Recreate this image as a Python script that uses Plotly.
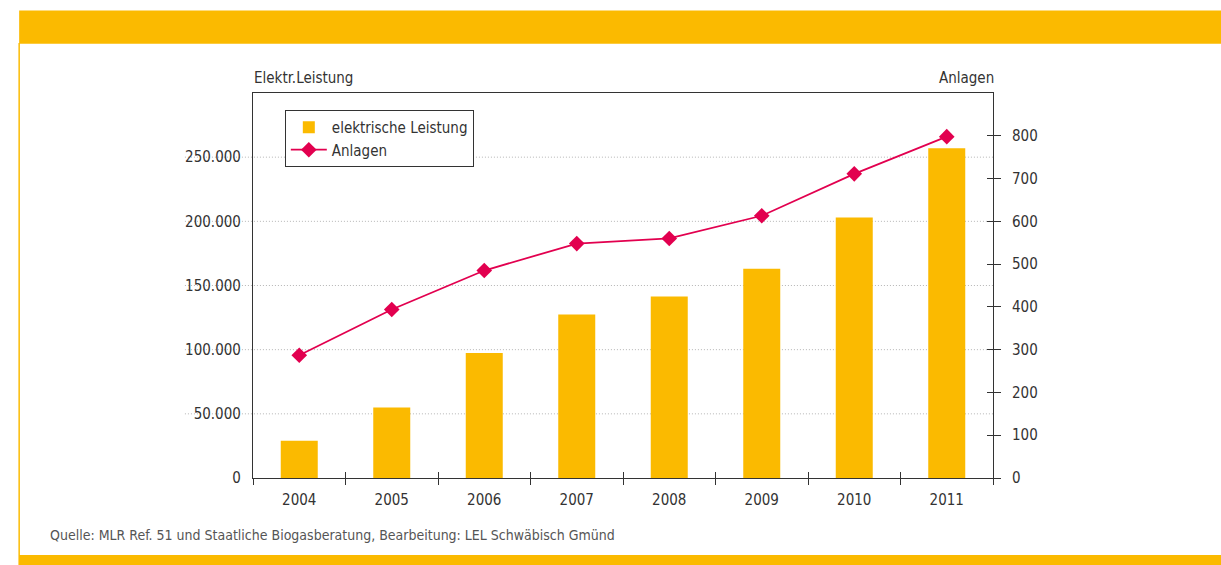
import plotly.graph_objects as go

# Biogas in Baden-Württemberg: installed electrical capacity and number of plants
years = ["2004", "2005", "2006", "2007", "2008", "2009", "2010", "2011"]
leistung = [29000, 55000, 97500, 127500, 141500, 163000, 203000, 257000]
anlagen = [287, 394, 485, 548, 560, 613, 711, 798]

left_ticks = [0, 50000, 100000, 150000, 200000, 250000]
left_labels = ["0", "50.000", "100.000", "150.000", "200.000", "250.000"]
right_ticks = [0, 100, 200, 300, 400, 500, 600, 700, 800]
right_labels = ["0", "100", "200", "300", "400", "500", "600", "700", "800"]

YELLOW = "#FBBA00"
RED = "#E2004F"
INK = "#333333"
FONT = "DejaVu Sans Condensed, Liberation Sans Narrow, Arial Narrow, sans-serif"

fig = go.Figure()
fig.add_trace(go.Bar(
    x=years, y=leistung, name="elektrische Leistung",
    marker=dict(color=YELLOW, line=dict(width=0)), width=0.4,
))
fig.add_trace(go.Scatter(
    x=years, y=anlagen, name="Anlagen", yaxis="y2", mode="lines+markers",
    line=dict(color=RED, width=1.8),
    marker=dict(symbol="diamond", size=12, color=RED),
))
# empty helper trace that carries the inward half of the crossing ticks
fig.add_trace(go.Scatter(x=[], y=[], xaxis="x2", yaxis="y3",
                         showlegend=False, hoverinfo="skip"))

# dotted grid, running out under the left tick labels
shapes = []
for v in left_ticks[1:]:
    shapes.append(dict(type="line", xref="paper", yref="y", x0=-0.092, x1=1,
                       y0=v, y1=v, line=dict(color="#B5B5B5", width=1, dash="1px,2px"),
                       layer="below"))
# yellow page frame
shapes += [
    dict(type="rect", xref="paper", yref="paper", x0=-0.316, x1=1.31,
         y0=1.128, y1=1.214, fillcolor=YELLOW, line=dict(width=0), layer="below"),
    dict(type="rect", xref="paper", yref="paper", x0=-0.317, x1=-0.315,
         y0=-0.2, y1=1.13, fillcolor=YELLOW, line=dict(width=0), layer="below"),
    dict(type="rect", xref="paper", yref="paper", x0=-0.317, x1=1.31,
         y0=-0.23, y1=-0.2, fillcolor=YELLOW, line=dict(width=0), layer="below"),
]

fig.update_layout(
    width=1221, height=565,
    margin=dict(l=253, r=228, t=93, b=87),
    paper_bgcolor="white", plot_bgcolor="white",
    font=dict(family=FONT, size=15, color=INK),
    bargap=0.6,
    showlegend=True,
    legend=dict(x=0.043, y=0.956, xanchor="left", yanchor="top",
                bgcolor="white", bordercolor=INK, borderwidth=1,
                font=dict(size=15, color=INK), tracegroupgap=0,
                itemwidth=36),
    xaxis=dict(type="category", categoryarray=years, range=[-0.5, 7.5],
               showline=True, linecolor=INK, linewidth=1.2, mirror=True,
               ticks="outside", ticklen=6, tickcolor=INK, tickson="boundaries",
               showgrid=False, ticklabelstandoff=8, fixedrange=True),
    xaxis2=dict(type="category", categoryarray=years, range=[-0.5, 7.5],
                overlaying="x", anchor="y", side="bottom",
                ticks="inside", ticklen=6, tickcolor=INK, tickson="boundaries",
                showticklabels=False, showgrid=False, showline=False),
    yaxis=dict(range=[0, 300000], tickvals=left_ticks, ticktext=left_labels,
               showline=True, linecolor=INK, linewidth=1.2, mirror=True,
               ticks="", showgrid=False, zeroline=False, ticklabelstandoff=8),
    yaxis2=dict(range=[0, 900], tickvals=right_ticks, ticktext=right_labels,
                overlaying="y", side="right", anchor="x",
                showline=False, ticks="outside", ticklen=7, tickcolor=INK,
                showgrid=False, zeroline=False, ticklabelstandoff=8),
    yaxis3=dict(range=[0, 900], tickvals=right_ticks, overlaying="y",
                side="right", anchor="x2", showticklabels=False,
                ticks="inside", ticklen=6, tickcolor=INK,
                showgrid=False, zeroline=False, showline=False),
    shapes=shapes,
    annotations=[
        dict(text="Elektr.Leistung", xref="paper", yref="paper", x=-0.001, y=1.04,
             xanchor="left", yanchor="middle", showarrow=False,
             font=dict(size=15, color=INK)),
        dict(text="Anlagen", xref="paper", yref="paper", x=1.004, y=1.04,
             xanchor="right", yanchor="middle", showarrow=False,
             font=dict(size=15, color=INK)),
        dict(text="Quelle: MLR Ref. 51 und Staatliche Biogasberatung, Bearbeitung: LEL Schwäbisch Gmünd",
             xref="paper", yref="paper", x=-0.277, y=-0.148,
             xanchor="left", yanchor="middle", showarrow=False,
             font=dict(size=14, color="#555555")),
    ],
)

fig.write_html("out.html")
